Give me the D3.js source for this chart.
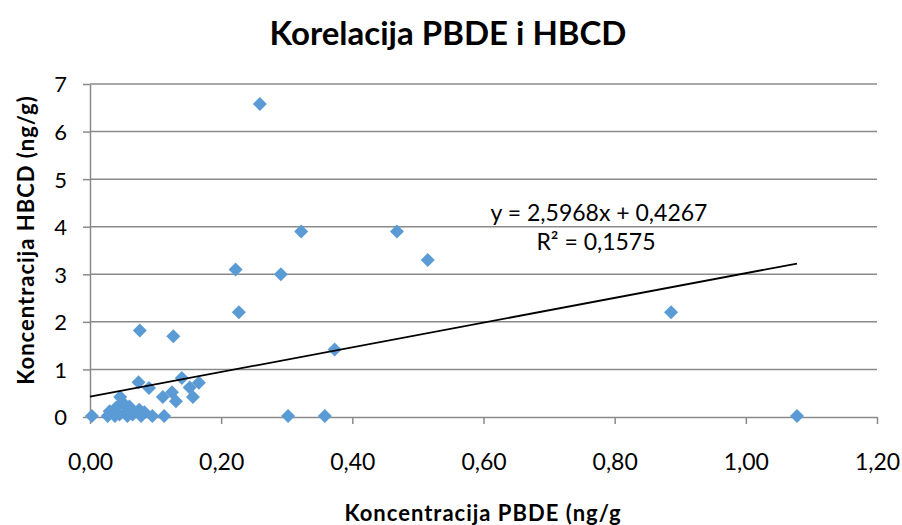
<!DOCTYPE html>
<html>
<head>
<meta charset="utf-8">
<script src="https://cdn.jsdelivr.net/npm/d3@7"></script>
<style>
  body { margin: 0; background: #fff; }
  svg text { font-family: Lato, "Open Sans", sans-serif; fill: #000; }
</style>
</head>
<body>
<div id="chart"></div>
<script>
// PBDE (x) vs HBCD (y) concentrations, ng/g
const pbde = [0.259, 0.322, 0.468, 0.515, 0.222, 0.291, 0.227, 0.886, 0.076, 0.127,
  0.373, 0.140, 0.074, 0.166, 0.090, 0.152, 0.125, 0.111, 0.157, 0.131,
  0.046, 0.050, 0.040, 0.060, 0.030, 0.055, 0.075, 0.083, 0.302, 0.358,
  1.078, 0.003, 0.027, 0.038, 0.057, 0.078, 0.095, 0.113, 0.045, 0.065];
const hbcd = [6.58, 3.9, 3.9, 3.3, 3.1, 3.0, 2.2, 2.2, 1.82, 1.7,
  1.42, 0.82, 0.73, 0.72, 0.61, 0.62, 0.52, 0.42, 0.42, 0.33,
  0.42, 0.30, 0.20, 0.22, 0.12, 0.10, 0.15, 0.10, 0.02, 0.02,
  0.02, 0.02, 0.02, 0.02, 0.02, 0.02, 0.02, 0.02, 0.05, 0.05];
const xTicks = [0, 0.2, 0.4, 0.6, 0.8, 1.0, 1.2];
const yTicks = [0, 1, 2, 3, 4, 5, 6, 7];
const slope = 2.5968;
const intercept = 0.4267;
const rSquared = "0,1575";

const width = 902;
const height = 525;
const margin = { top: 84, right: 25, bottom: 108, left: 90 };
const innerWidth = width - margin.left - margin.right;
const innerHeight = height - margin.top - margin.bottom;

const svg = d3.select("#chart").append("svg")
  .attr("width", width)
  .attr("height", height);

const fmt = d => d3.format(".2f")(d).replace(".", ",");

const x = d3.scaleLinear().domain([0, 1.2]).range([0, innerWidth]);
const y = d3.scaleLinear().domain([0, 7]).range([innerHeight, 0]);

const g = svg.append("g")
  .attr("transform", `translate(${margin.left},${margin.top})`);

// horizontal gridlines
g.selectAll(".grid")
  .data(yTicks.slice(1))
  .enter().append("line")
  .attr("x1", 0).attr("x2", innerWidth)
  .attr("y1", d => y(d)).attr("y2", d => y(d))
  .attr("stroke", "#8a8a8a")
  .attr("stroke-width", 1.5);

// axes
const xAxis = g.append("g")
  .attr("transform", `translate(0,${innerHeight})`)
  .call(d3.axisBottom(x).tickValues(xTicks).tickFormat(fmt).tickSize(7).tickSizeOuter(0));
const yAxis = g.append("g")
  .call(d3.axisLeft(y).tickValues(yTicks).tickFormat(d => d).tickSize(7).tickSizeOuter(0));

[xAxis, yAxis].forEach(ax => {
  ax.select(".domain").attr("stroke", "#8a8a8a").attr("stroke-width", 1.5);
  ax.selectAll(".tick line").attr("stroke", "#8a8a8a").attr("stroke-width", 1.5);
  ax.selectAll("text").attr("fill", "#000")
    .style("font-family", "Lato, 'Open Sans', sans-serif");
});
xAxis.selectAll("text").attr("font-size", "23px").attr("y", 53).attr("dy", 0);
yAxis.selectAll("text").attr("font-size", "22px").attr("x", -23).attr("dy", "0.36em");

// points
g.selectAll(".pt")
  .data(pbde.map((v, i) => [v, hbcd[i]]))
  .enter().append("path")
  .attr("d", d3.symbol(d3.symbolSquare, 98))
  .attr("transform", d => `translate(${x(d[0])},${y(d[1])}) rotate(45)`)
  .attr("fill", "#5B9BD5");

// linear trendline
const xMax = d3.max(pbde);
g.append("line")
  .attr("x1", x(0)).attr("y1", y(intercept))
  .attr("x2", x(xMax)).attr("y2", y(slope * xMax + intercept))
  .attr("stroke", "#000")
  .attr("stroke-width", 1.8);

const eq = `y = ${String(slope).replace(".", ",")}x + ${String(intercept).replace(".", ",")}`;
svg.append("text")
  .attr("x", 599).attr("y", 221)
  .attr("text-anchor", "middle")
  .attr("font-size", "23px")
  .text(eq);
svg.append("text")
  .attr("x", 596).attr("y", 250)
  .attr("text-anchor", "middle")
  .attr("font-size", "23px")
  .text(`R² = ${rSquared}`);

// titles
svg.append("text")
  .attr("x", 448).attr("y", 45)
  .attr("text-anchor", "middle")
  .attr("font-size", "33px")
  .attr("font-weight", "bold")
  .text("Korelacija PBDE i HBCD");

svg.append("text")
  .attr("x", 483).attr("y", 521)
  .attr("text-anchor", "middle")
  .attr("font-size", "22px")
  .attr("font-weight", "bold")
  .attr("letter-spacing", "1px")
  .text("Koncentracija  PBDE (ng/g");

svg.append("text")
  .attr("transform", "translate(34,240) rotate(-90)")
  .attr("text-anchor", "middle")
  .attr("font-size", "22px")
  .attr("font-weight", "bold")
  .attr("letter-spacing", "1px")
  .text("Koncentracija  HBCD (ng/g)");
</script>
</body>
</html>
